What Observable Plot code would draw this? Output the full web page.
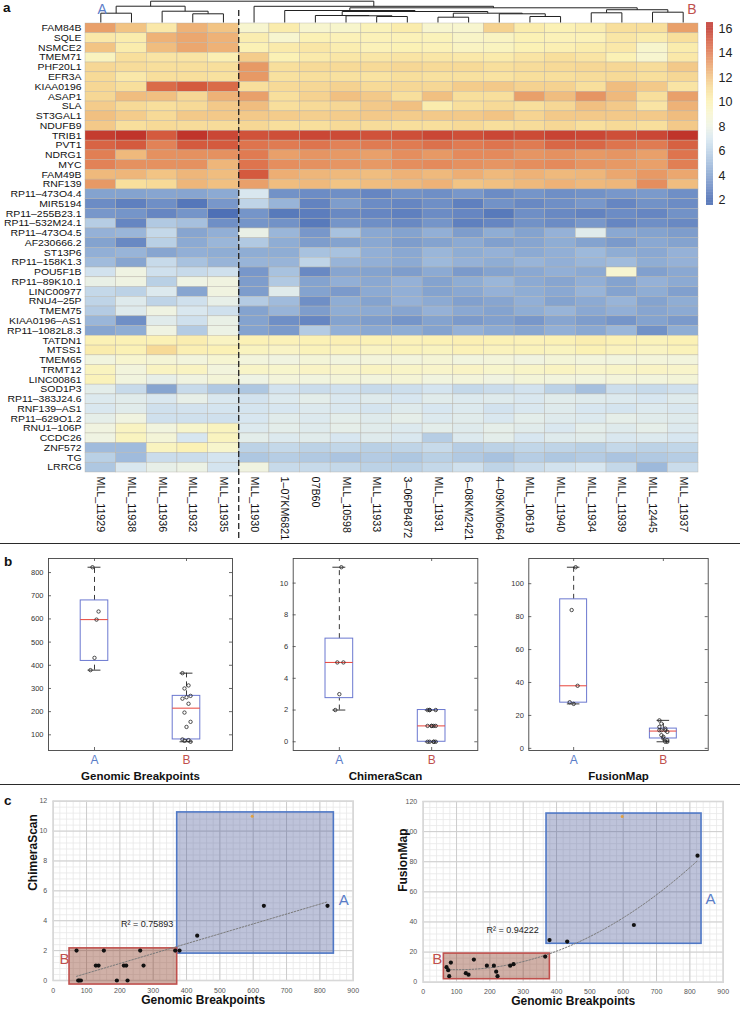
<!DOCTYPE html>
<html><head><meta charset="utf-8">
<script src="https://cdn.jsdelivr.net/npm/d3@7"></script>
<script src="https://cdn.jsdelivr.net/npm/@observablehq/plot@0.6"></script>
<style>
body{margin:0;background:#fff;font-family:"Liberation Sans",Arial,sans-serif;}
#root{position:relative;width:740px;height:1009px;overflow:hidden;background:#fff;}
.abs{position:absolute;}
.plab{position:absolute;font-weight:bold;font-size:13.5px;line-height:14px;color:#111;}
.sep{position:absolute;left:0;width:740px;height:0;border-top:1.4px solid #2a2a2a;}
</style></head><body><div id="root"></div>
<script>
// ---------------- DATA ----------------
const genes = ["FAM84B","SQLE","NSMCE2","TMEM71","PHF20L1","EFR3A","KIAA0196","ASAP1","SLA","ST3GAL1","NDUFB9","TRIB1","PVT1","NDRG1","MYC","FAM49B","RNF139",
"RP11–473O4.4","MIR5194","RP11–255B23.1","RP11–532M24.1","RP11–473O4.5","AF230666.2","ST13P6","RP11–158K1.3","POU5F1B","RP11–89K10.1","LINC00977","RNU4–25P","TMEM75","KIAA0196–AS1","RP11–1082L8.3",
"TATDN1","MTSS1","TMEM65","TRMT12","LINC00861","SOD1P3","RP11–383J24.6","RNF139–AS1","RP11–629O1.2","RNU1–106P","CCDC26","ZNF572","TG","LRRC6"];
const samples = ["MLL_11929","MLL_11938","MLL_11936","MLL_11932","MLL_11935","MLL_11930","1–07KM6821","07B60","MLL_10598","MLL_11933","3–06PB4872","MLL_11931","6–08KM2421","4–09KM0664","MLL_10619","MLL_11940","MLL_11934","MLL_11939","MLL_12445","MLL_11937"];
const groupSizes = [5, 15];
const groupNames = ["A", "B"];
const groupColors = ["#5a7dc8", "#c0504d"];

const upValues = [
[13,12,10.5,12.5,12,9,10.3,9,9.1,9.8,10.3,9,9,11.5,10.3,10,10.2,11,11,13],
[10.5,10.3,12.5,12.8,12.5,10.2,9,10,9.9,9.9,9.9,9.8,9.3,9.5,10,9.9,9.9,10.6,10.3,11],
[12,10.3,12.2,12.8,12.5,10,10.4,10.6,10.2,9.9,10,9.9,9.5,9.6,10,10.1,10.3,10.5,9.1,10.3],
[9.6,11,10.7,10.7,10.1,11.7,10,10.4,10.6,10.6,10.7,10.6,10.5,10.4,10.7,11,10.7,10,9,10.5],
[11.3,11.1,11,11,11,13.2,11,11.2,11.2,11.2,11.3,11.2,11.2,11,11.1,11.2,11.3,11.3,11.1,11.8],
[11.2,10.5,11,11,10.9,13.2,10.9,11,10.9,10.8,11,10.9,10.9,10.8,11,11,11.1,11.2,11,11.3],
[11.3,11,14.5,15,14.5,11,11.2,11.3,11.5,11.2,11.3,11.3,11.7,11.8,11.5,11.5,11,12.2,11.8,10.7],
[11.3,12.2,12.1,11.3,12.5,13,11,11.5,12.1,11.8,11,12.1,11,11,13,12.2,13.3,12.3,11,13],
[11.7,11.2,11,11.2,11.8,12.2,11,11.2,11.3,11.8,12.1,10.3,11,11.2,11,11.3,12.1,11.8,10.7,12.5],
[12.1,11.7,11.2,11.8,11.8,11.8,11.7,11.6,11.7,11.8,11.7,11.8,11.8,12,11.4,11.8,11.8,11.8,11.8,12.2],
[11.8,11,11.2,11.1,11.1,11.3,11,11,11.2,11.1,11,11,11.2,11,11.1,11.3,11,11.2,11,11.8],
[15.8,16,15,16,15.5,15.2,15.3,15.5,15.4,15.2,15.3,15.5,15.3,15.5,15.4,15.6,15.5,15.3,15.5,16.2],
[14.7,15,13.8,15,15,14.2,14,14.2,13.8,14,14,14.3,14,14.2,14,14.6,14.6,14.2,14,14.8],
[13.9,12.3,13.4,13.4,13.4,14,13,13.3,13.2,13,13.5,13.2,13.6,13.6,13.3,13.4,13.2,13.3,13,14.2],
[13.8,13.4,13.4,13.4,12.4,14.2,13.5,13.4,13.3,13.2,13.5,13.6,13.4,13.3,13.5,13.6,13.3,13.2,13,13.9],
[12.3,12.4,12,12.4,12.2,15,12.6,12.4,12.3,12.2,12.5,12.3,12.6,12.3,12.5,12.3,12.4,12.8,13.2,12.8],
[13.2,11,11.2,12.4,12.1,13,12.2,12.3,12,12.2,12.3,12.5,12,12.1,12.3,12.5,12.3,12.4,13.5,12.2]
];
const lowValues = [
[4,4,4.1,4.1,4.3,7.1,3.4,3.2,3.3,3.0,3.4,3.3,3.6,3.2,3.5,3.3,3.4,3.6,3.7,3.3],
[3.2,2.8,3.3,2.5,3.6,6.1,4.7,2.9,3.8,3.2,3.0,3.3,2.8,3.4,3.1,3.3,3.6,3.0,3.4,3.2],
[3.6,3.5,3.0,3.5,2.3,3.5,2.6,2.7,3.1,3.0,2.8,3.2,3.0,2.6,3.3,3.1,2.9,3.2,3.0,3.4],
[5.8,3.0,5.6,5.2,3.3,3.5,3.4,2.6,3.5,3.3,3.1,3.5,2.8,3.0,3.4,3.2,3.6,3.0,3.3,3.1],
[4.6,4.8,6.3,4.1,4.5,7.8,4.8,3.6,5.3,4.2,4.0,4.5,3.8,4.4,4.0,4.6,7.4,4.2,4.0,3.8],
[4,3.1,5.9,4.3,4.8,5.6,4.4,3.8,4.0,4.2,3.8,4.0,4.3,3.9,4.1,4.4,4.0,3.7,4.2,4.0],
[4.5,4.7,4.1,4.5,4.4,4.4,4.4,5.3,5.3,4.5,4.2,4.8,4.4,4.6,4.3,4.5,4.9,4.4,4.2,4.6],
[5,4.1,6.4,5.3,4.7,4.7,4.7,6.1,4.7,4.5,4.3,4.9,4.6,4.4,4.7,4.5,4.8,5.0,4.4,4.6],
[6.8,8.1,6.7,6.4,6.7,3.6,5.3,3.1,4.1,4.0,3.8,4.3,3.7,4.0,4.2,4.5,4.3,8.9,3.9,4.2],
[7.8,8.1,5.9,8.0,8.2,3.8,5.6,4.0,4.5,4.2,4.6,4.0,4.4,4.8,4.3,4.1,4.5,4.0,4.6,4.3],
[6.3,6.0,7.2,4.1,8.2,3.8,7.4,4.0,3.7,4.3,4.5,4.0,4.2,4.6,4.4,4.2,4.7,4.0,4.4,3.9],
[6.1,7.3,6.1,6.7,7.7,5.7,5.0,3.3,4.4,4.0,4.6,4.3,3.9,4.1,4.5,4.0,4.3,4.7,4.0,4.4],
[5.7,7.3,8.1,7.1,6.7,4.0,4.7,3.8,4.4,4.3,4.1,4.6,4.2,4.0,4.4,4.7,4.2,4.5,4.1,4.3],
[4.8,3.3,7.4,6.7,7.8,4.0,3.3,3.0,4.0,3.8,3.5,4.0,3.7,3.9,3.6,4.1,3.8,3.5,4.0,3.7],
[4.1,4.4,8.1,5.7,7.9,4.0,3.7,5.7,4.5,4.2,4.4,4.0,4.6,4.3,4.1,4.5,4.2,4.8,3.4,4.4]
];
const midValues = [
[10,10,10,10.2,9.5,10,9.9,10,10.1,10,9.9,10,10.1,10,9.9,10,10.2,10,9.8,10],
[10.3,10,11.2,10.1,10,9.6,9.4,9.8,9.7,9.5,9.8,9.6,9.9,9.7,9.8,9.6,10,9.7,9.5,9.8],
[8.3,9,8.7,8.4,8.9,8.4,8.2,8.6,8.3,8.5,8.4,8.7,8.3,8.5,8.2,8.6,8.4,8.3,8.5,8.4],
[9.6,8.4,9.5,9.5,8.4,9.3,9.1,9.4,9.2,9.5,9.3,9.2,9.4,9.1,9.3,9.5,9.2,9.3,9.4,9.2],
[9.8,8.3,7.7,8.2,8.6,8.0,8.5,8.3,8.6,8.4,8.7,8.3,8.5,8.2,8.6,8.4,8.3,8.5,8.4,8.6],
[7.5,6.4,4.1,6.4,5.6,5.5,6.8,6.5,6.7,6.4,6.6,6.9,6.3,6.5,6.8,6.0,5.2,6.6,6.4,6.7],
[7.2,7.4,7.1,7.7,7.1,6.8,7.2,7.5,7.1,7.3,7.0,7.4,7.2,7.3,7.1,7.4,7.3,7.2,7.0,7.3],
[7.1,7.4,6.7,6.8,6.9,6.9,7.0,7.2,7.1,6.9,7.3,7.0,7.2,6.8,7.1,7.3,7.0,6.9,7.2,7.1],
[7.6,8.2,6.7,6.7,6.7,7.0,7.4,7.2,7.5,7.3,7.6,7.2,7.4,7.1,7.5,7.3,7.2,7.6,7.4,7.3],
[8.2,9.5,8.3,9.1,9.6,7.2,7.5,7.3,7.6,7.4,7.2,7.5,7.3,7.6,7.4,7.1,7.5,7.3,7.6,7.2],
[8.1,9.6,8.6,7.0,9.6,7.5,7.2,7.4,7.0,7.3,7.1,5.8,7.2,7.5,7.0,7.3,7.4,7.1,7.2,7.0],
[5,5,9.6,10,9.1,6.0,6.3,6.0,6.2,5.9,6.1,6.4,5.8,6.0,6.2,6.1,5.9,6.3,6.0,6.2],
[5.9,5,6.5,6.5,6.9,5.5,5.8,5.6,5.4,5.7,5.5,5.9,5.6,5.3,5.8,5.5,5.7,5.4,5.6,5.8],
[5.5,7.1,7.7,7.9,6.9,8.2,6.4,6.4,6.3,6.0,6.0,6.3,6.7,6.1,6.5,6.8,7.0,6.3,4.9,6.5]
];

// hierarchical clustering of the columns: [left, right, height]; leaves 0..19, merges numbered from 20
const dendroMerges = [
[0,1,0.437],[3,4,0.408],[2,21,0.53],[20,22,0.765],
[9,10,0.282],[8,24,0.315],[7,25,0.329],[11,12,0.249],[14,15,0.282],[13,28,0.408],[27,29,0.437],
[26,30,0.516],[6,31,0.563],[16,17,0.455],[18,19,0.484],[33,34,0.6],[32,35,0.69],[5,36,0.76],[23,37,1.0]
];

const colorDomain = [2,3,4,5,6,7,8,9,10,11,12,13,14,15,16];
const colorRange = ["#4467b1","#6686c2","#84a3cf","#a0bbdc","#bcd2e6","#d7e6f0","#eef3e4","#f7f5cf","#fbf1b5","#f8df9c","#f2c484","#e9a06a","#e07b52","#d45a3e","#c0342b"];
const colorbarTicks = [2,4,6,8,10,12,14,16];
const colorbarExtent = [1.55, 16.5];

// panel b / c
const genomicA = [379, 432, 632, 823, 597];
const chimeraA = [2, 3, 5, 5, 11];
const fusionA  = [28, 27, 38, 84, 110];
const genomicB = [70, 75, 78, 83, 128, 136, 152, 191, 212, 219, 223, 261, 271, 366];
const chimeraB = [2, 0, 0, 0, 1, 1, 2, 0, 1, 1, 0, 2, 1, 2];
const fusionB  = [10, 8, 4, 13, 6, 5, 15, 11, 11, 7, 4, 11, 12, 17];
// group B genomic counts as they are drawn in the box plot of panel b
const genomicBoxB = [70, 74, 77, 80, 134, 156, 196, 234, 256, 262, 268, 300, 313, 366];
const outlierIndexA = 4;

const genomicTicks = [100,200,300,400,500,600,700,800];
const chimeraTicks = [0,2,4,6,8,10];
const fusionTicks = [0,20,40,60,80,100];

const chimeraRegions = [
  {group:"A", x1:372, x2:842, y1:1.8, y2:11.25, lx:872, ly:5.4},
  {group:"B", x1:49, x2:372, y1:-0.27, y2:2.15, lx:34, ly:1.4}
];
const fusionRegions = [
  {group:"A", x1:370, x2:835, y1:25.5, y2:112, lx:862, ly:55},
  {group:"B", x1:62, x2:380, y1:2, y2:19, lx:42, ly:15}
];
const r2Labels = [{text:"R² = 0.75893", x:282, y:3.8},{text:"R² = 0.94222", x:268, y:34.3}];

// ---------------- RENDER ----------------
const PF = "'Liberation Sans', Arial, Helvetica, sans-serif";
const baseStyle = {fontFamily: PF, background: "transparent", overflow: "visible", color:"#111"};
const root = document.getElementById("root");
function place(el, left, top){const d=document.createElement("div");d.className="abs";d.style.left=left+"px";d.style.top=top+"px";d.appendChild(el);root.appendChild(d);return d;}
function html(cls, text, left, top, extra){const d=document.createElement("div");d.className=cls;d.textContent=text;d.style.left=left+"px";d.style.top=top+"px";if(extra)Object.assign(d.style,extra);root.appendChild(d);}

const colorScale = {type:"linear", domain: colorDomain, range: colorRange, clamp: true};
const nA = groupSizes[0];
const values = [...upValues, ...lowValues, ...midValues];
const cells = [];
values.forEach((row, r) => row.forEach((v, c) => cells.push({r, c, v})));

// heatmap
const rowFont = 8.7, rowStretch = 1.2;
const heat = Plot.plot({
  width: 740, height: 544, marginLeft: 85, marginRight: 42, marginTop: 23, marginBottom: 72,
  x: {domain: [0, samples.length], axis: null},
  y: {domain: [0, genes.length], range: [23, 472], axis: null},
  color: colorScale,
  style: baseStyle,
  marks: [
    Plot.rect(cells, {x1: "c", x2: d => d.c + 1, y1: "r", y2: d => d.r + 1, fill: "v", stroke: "#b5b0a6", strokeWidth: 0.5, strokeOpacity: 0.8}),
    Plot.text(genes, {x: 0, y: (d, i) => i + 0.5, text: d => d, textAnchor: "end", dx: -4, fontSize: rowFont, fill: "#111"}),
    Plot.text(samples, {x: (d, i) => i + 0.5, y: genes.length, text: d => d, rotate: 90, textAnchor: "start", dy: 4, fontSize: 10.7, fill: "#111"}),
    Plot.ruleX([nA], {x: d => d, y1: -1.33, y2: 52.8, stroke: "#111", strokeWidth: 1.2, strokeDasharray: "6,3"})
  ]
});
place(heat, 0, 0);
// widen the compact row labels horizontally so they keep the reference's width
{
  const textGroups = heat.querySelectorAll("g[aria-label='text']");
  if (textGroups.length) {
    textGroups[0].querySelectorAll("text").forEach(t => {
      const w = t.getComputedTextLength();
      if (w > 0) { t.setAttribute("textLength", (w * rowStretch).toFixed(2)); t.setAttribute("lengthAdjust", "spacingAndGlyphs"); }
    });
  }
}

// dendrogram
const nodeX = samples.map((d, i) => i + 0.5);
const nodeH = samples.map(() => 0);
const segs = [];
dendroMerges.forEach(([a, b, h]) => {
  segs.push({x1: nodeX[a], y1: nodeH[a], x2: nodeX[a], y2: h});
  segs.push({x1: nodeX[b], y1: nodeH[b], x2: nodeX[b], y2: h});
  segs.push({x1: nodeX[a], y1: h, x2: nodeX[b], y2: h});
  nodeX.push((nodeX[a] + nodeX[b]) / 2); nodeH.push(h);
});
const dendro = Plot.plot({
  width: 740, height: 23, marginLeft: 85, marginRight: 42, marginTop: 0.7, marginBottom: 1,
  x: {domain: [0, samples.length], axis: null}, y: {domain: [0, 1], axis: null},
  style: baseStyle,
  marks: [
    Plot.link(segs, {x1: "x1", y1: "y1", x2: "x2", y2: "y2", stroke: "#222", strokeWidth: 1}),
    Plot.text([groupNames[0]], {frameAnchor: "top-left", text: d => d, dx: 12, dy: 3, fontSize: 14, fill: groupColors[0]}),
    Plot.text([groupNames[1]], {frameAnchor: "top-right", text: d => d, dx: -2, dy: 3, fontSize: 14, fill: groupColors[1]})
  ]
});
place(dendro, 0, 0);

// colorbar
const cbStep = 0.05;
const cbVals = d3.range(colorbarExtent[0], colorbarExtent[1], cbStep);
const cbar = Plot.plot({
  width: 40, height: 215, marginLeft: 6, marginRight: 27, marginTop: 22, marginBottom: 10,
  x: {domain: [0, 1], axis: null}, y: {domain: colorbarExtent, axis: null},
  color: colorScale, style: baseStyle,
  marks: [
    Plot.rect(cbVals, {x1: 0, x2: 1, y1: d => d, y2: d => Math.min(d + cbStep + 0.01, colorbarExtent[1]), fill: d => d + cbStep / 2}),
    Plot.text(colorbarTicks, {x: 1, y: d => d, text: d => String(d), dx: 5, textAnchor: "start", fontSize: 12.5, fill: "#222"})
  ]
});
place(cbar, 700, 0);

// ---- panel b: box plots
function prctile(vals, p){
  const s = vals.slice().sort((a, b) => a - b), n = s.length;
  const pos = p * n + 0.5;
  if (pos <= 1) return s[0];
  if (pos >= n) return s[n - 1];
  const i = Math.floor(pos), f = pos - i;
  return s[i - 1] + f * (s[i] - s[i - 1]);
}
function boxStats(vals, x){
  const q1 = prctile(vals, 0.25), med = prctile(vals, 0.5), q3 = prctile(vals, 0.75), iqr = q3 - q1;
  const hiW = d3.max(vals.filter(v => v <= q3 + 1.5 * iqr));
  const loW = d3.min(vals.filter(v => v >= q1 - 1.5 * iqr));
  return {x, q1, med, q3, hiW, loW};
}
const jitter = j => (((j * 7) % 5) - 2) * 0.022;
function boxPanel(cfg){
  const H = 241, mt = 14, mb = 35;
  const all = [...cfg.a, ...cfg.b];
  const lo0 = d3.min(all), hi0 = d3.max(all), pad = (hi0 - lo0) * 0.05;
  const lo = lo0 - pad, hi = hi0 + pad;
  const stats = [boxStats(cfg.a, 1), boxStats(cfg.b, 2)];
  const pts = [...cfg.a.map((v, j) => ({x: 1 + jitter(j), v})), ...cfg.b.map((v, j) => ({x: 2 + jitter(j + 2), v}))];
  const pxX = (cfg.width - cfg.ml - cfg.mr) / 2, pxY = (H - mt - mb) / (hi - lo), tl = 3;
  const bw = 0.15, cw = 0.07, ink = "#444";
  return Plot.plot({
    width: cfg.width, height: H, marginLeft: cfg.ml, marginRight: cfg.mr, marginTop: mt, marginBottom: mb,
    x: {domain: [0.5, 2.5], axis: null}, y: {domain: [lo, hi], axis: null}, style: baseStyle,
    marks: [
      Plot.ruleY(cfg.ticks, {y: d => d, x1: 0.5, x2: 0.5 + tl / pxX, stroke: ink, strokeWidth: 0.8}),
      Plot.ruleY(cfg.ticks, {y: d => d, x1: 2.5 - tl / pxX, x2: 2.5, stroke: ink, strokeWidth: 0.8}),
      Plot.ruleX([1, 2], {x: d => d, y1: lo, y2: lo + tl / pxY, stroke: ink, strokeWidth: 0.8}),
      Plot.ruleX([1, 2], {x: d => d, y1: hi - tl / pxY, y2: hi, stroke: ink, strokeWidth: 0.8}),
      Plot.frame({stroke: ink, strokeWidth: 0.9}),
      Plot.text(cfg.ticks, {x: 0.5, y: d => d, text: d => String(d), textAnchor: "end", dx: -5, fontSize: 7.5, fill: "#333"}),
      Plot.ruleX(stats, {x: "x", y1: "q3", y2: "hiW", stroke: "#222", strokeWidth: 0.9, strokeDasharray: "5,4"}),
      Plot.ruleX(stats, {x: "x", y1: "loW", y2: "q1", stroke: "#222", strokeWidth: 0.9, strokeDasharray: "5,4"}),
      Plot.ruleY(stats, {y: "hiW", x1: d => d.x - cw, x2: d => d.x + cw, stroke: "#222", strokeWidth: 0.9}),
      Plot.ruleY(stats, {y: "loW", x1: d => d.x - cw, x2: d => d.x + cw, stroke: "#222", strokeWidth: 0.9}),
      Plot.rect(stats, {x1: d => d.x - bw, x2: d => d.x + bw, y1: "q1", y2: "q3", fill: "none", stroke: "#6b78d0", strokeWidth: 1}),
      Plot.ruleY(stats, {y: "med", x1: d => d.x - bw, x2: d => d.x + bw, stroke: "#e8443a", strokeWidth: 1}),
      Plot.dot(pts, {x: "x", y: "v", r: 1.7, stroke: "#222", strokeWidth: 0.8, fill: "none"}),
      Plot.text([groupNames[0]], {x: 1, y: lo, text: d => d, dy: 10, fontSize: 12, fill: groupColors[0]}),
      Plot.text([groupNames[1]], {x: 2, y: lo, text: d => d, dy: 10, fontSize: 12, fill: groupColors[1]}),
      Plot.text([cfg.title], {x: 1.5, y: lo, text: d => d, dy: 26, fontSize: 11.5, fontWeight: "bold", fill: "#111"})
    ]
  });
}
place(boxPanel({a: genomicA, b: genomicBoxB, ticks: genomicTicks, title: "Genomic Breakpoints", width: 245, ml: 48, mr: 13}), 0, 544);
place(boxPanel({a: chimeraA, b: chimeraB, ticks: chimeraTicks, title: "ChimeraScan", width: 245, ml: 47.7, mr: 12.7}), 245, 544);
place(boxPanel({a: fusionA, b: fusionB, ticks: fusionTicks, title: "FusionMap", width: 250, ml: 38.3, mr: 32.3}), 490, 544);

// ---- panel c: scatter plots
function polyfit2(pts){
  let S = [0,0,0,0,0], T = [0,0,0];
  for (const {x, y} of pts){ let p = 1; for (let k = 0; k < 5; k++){ S[k] += p; if (k < 3) T[k] += p * y; p *= x; } }
  const M = [[S[0],S[1],S[2],T[0]],[S[1],S[2],S[3],T[1]],[S[2],S[3],S[4],T[2]]];
  for (let i = 0; i < 3; i++){
    for (let k = i + 1; k < 3; k++){ const f = M[k][i] / M[i][i]; for (let j = i; j < 4; j++) M[k][j] -= f * M[i][j]; }
  }
  const c = [0,0,0];
  for (let i = 2; i >= 0; i--){ let s = M[i][3]; for (let j = i + 1; j < 3; j++) s -= M[i][j] * c[j]; c[i] = s / M[i][i]; }
  return c;
}
function scatterPanel(cfg){
  const W = 370, H = 224, ml = 52.7, mr = 17.3;
  const ptsA = genomicA.map((x, i) => ({x, y: cfg.a[i], out: i === outlierIndexA}));
  const ptsB = genomicB.map((x, i) => ({x, y: cfg.b[i], out: false}));
  const pts = [...ptsA, ...ptsB];
  const fitPts = pts.filter(d => !d.out);
  const xMinor = d3.range(0, 900 + 1e-9, 20), xMajor = d3.range(0, 900 + 1e-9, 100);
  const yMinor = d3.range(0, cfg.yMax + 1e-9, cfg.yStep / 5), yMajor = d3.range(0, cfg.yMax + 1e-9, cfg.yStep);
  let trend;
  if (cfg.fit === "linear") {
    trend = Plot.linearRegressionY(fitPts, {x: "x", y: "y", stroke: "#7a7a7a", strokeWidth: 1, strokeDasharray: "1.6,1.6", ci: 0});
  } else {
    const [a, b, c] = polyfit2(fitPts);
    const [x0, x1] = d3.extent(fitPts, d => d.x);
    const curve = d3.range(0, 81).map(k => { const x = x0 + (x1 - x0) * k / 80; return {x, y: a + b * x + c * x * x}; });
    trend = Plot.line(curve, {x: "x", y: "y", stroke: "#7a7a7a", strokeWidth: 1, strokeDasharray: "1.6,1.6"});
  }
  const regionMarks = [];
  cfg.regions.forEach((r) => {
    const gi = groupNames.indexOf(r.group);
    const fills = ["#4a5898", "#8a3a22"];
    const ops = [0.36, 0.4];
    regionMarks.push(Plot.rect([r], {x1: "x1", x2: "x2", y1: "y1", y2: "y2", fill: fills[gi], fillOpacity: ops[gi], stroke: gi === 0 ? "#4f78c6" : "#c0504d", strokeWidth: 1.6}));
    regionMarks.push(Plot.text([r], {x: "lx", y: "ly", text: "group", fontSize: 15, fill: groupColors[gi]}));
  });
  return Plot.plot({
    width: W, height: H, marginLeft: ml, marginRight: mr, marginTop: cfg.mt, marginBottom: cfg.mb,
    x: {domain: [0, 900], axis: null}, y: {domain: [0, cfg.yMax], axis: null}, style: baseStyle,
    marks: [
      Plot.ruleX(xMinor, {x: d => d, stroke: "#e9e9e9", strokeWidth: 0.8}),
      Plot.ruleY(yMinor, {y: d => d, stroke: "#e9e9e9", strokeWidth: 0.8}),
      Plot.ruleX(xMajor, {x: d => d, stroke: "#cdcdcd", strokeWidth: 1}),
      Plot.ruleY(yMajor, {y: d => d, stroke: "#cdcdcd", strokeWidth: 1}),
      Plot.frame({stroke: "#d8d8d8", strokeWidth: 1.6}),
      ...regionMarks,
      trend,
      Plot.dot(pts.filter(d => !d.out), {x: "x", y: "y", r: 2.1, fill: "#111"}),
      Plot.dot(pts.filter(d => d.out), {x: "x", y: "y", r: 1.5, fill: "#e0a040"}),
      Plot.text(xMajor, {x: d => d, y: 0, text: d => String(d), dy: 10, fontSize: 7, fill: "#555"}),
      Plot.text(yMajor, {x: 0, y: d => d, text: d => String(d), dx: -6, textAnchor: "end", fontSize: 7, fill: "#555"}),
      Plot.text([cfg.r2], {x: "x", y: "y", text: "text", fontSize: 9, fill: "#222"}),
      Plot.text(["Genomic Breakpoints"], {frameAnchor: "bottom", text: d => d, dy: 23, fontSize: 12, fontWeight: "bold", fill: "#111"}),
      Plot.text([cfg.yTitle], {frameAnchor: "left", text: d => d, rotate: -90, dx: -20, fontSize: 12, fontWeight: "bold", fill: "#111"})
    ]
  });
}
place(scatterPanel({a: chimeraA, b: chimeraB, yMax: 12, yStep: 2, regions: chimeraRegions, fit: "linear", r2: r2Labels[0], yTitle: "ChimeraScan", mt: 15.7, mb: 29}), 0, 785);
place(scatterPanel({a: fusionA, b: fusionB, yMax: 120, yStep: 20, regions: fusionRegions, fit: "quadratic", r2: r2Labels[1], yTitle: "FusionMap", mt: 16, mb: 27.3}), 370, 785);

// separators and panel letters
html("sep", "", 0, 543);
html("sep", "", 0, 784);
html("plab", "a", 3, 1);
html("plab", "b", 4, 555);
html("plab", "c", 4, 794);
</script></body></html>
